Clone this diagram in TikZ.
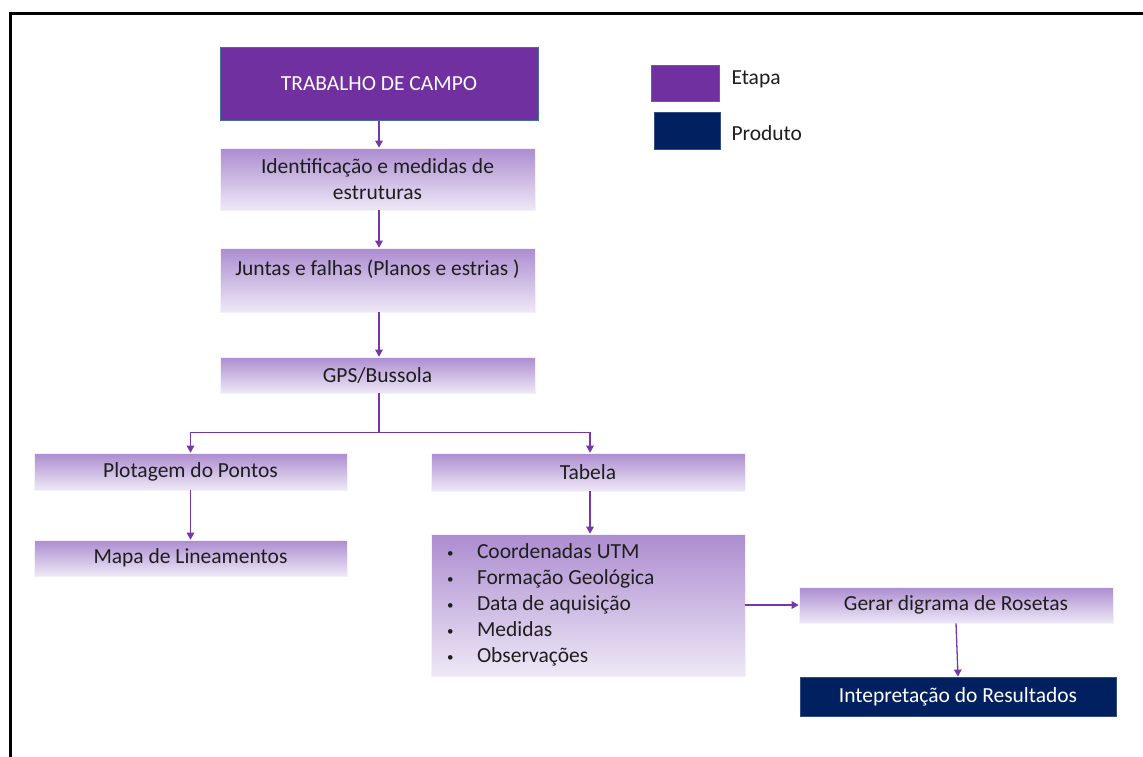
\documentclass[tikz,border=0pt]{standalone}
\usepackage{fontspec}
\setmainfont{Carlito}
\usetikzlibrary{arrows.meta}
\definecolor{etapa}{RGB}{112,48,160}
\definecolor{produto}{RGB}{0,32,96}
\definecolor{etapaedge}{RGB}{65,113,156}
\definecolor{gradtop}{RGB}{172,140,208}
\definecolor{gradbot}{RGB}{238,232,246}
\definecolor{ink}{RGB}{30,30,30}
\definecolor{flow}{RGB}{118,56,168}
% small list bullet followed by the item text
\newcommand{\listitem}[1]{\makebox[30pt][l]{\raisebox{1.5pt}{\fontsize{13}{13}\selectfont\textbullet}}#1}
\begin{document}
\begin{tikzpicture}[x=1pt,y=-1pt,
  txt/.style={font=\fontsize{21.5}{26}\selectfont},
  gbox/.style={txt,top color=gradtop,bottom color=gradbot,draw=gradbot!60!white,
    line width=0.6pt,inner sep=0pt,align=center,text=ink},
  etapabox/.style={txt,fill=etapa,draw=etapaedge,line width=1pt,inner sep=0pt,
    align=center,text=white},
  produtobox/.style={txt,fill=produto,draw=produto!80!white,line width=0.8pt,
    inner sep=0pt,align=center,text=white},
  arr/.style={draw=flow,line width=1.3pt,-{Triangle[length=7pt,width=7.5pt]}}]
\useasboundingbox (0,0) rectangle (1143,756);
\fill[white] (0,0) rectangle (1143,756);
% page frame
\draw[line width=3.5pt,black] (10.5,760) -- (10.5,13.5) -- (1150,13.5);

% legend
\node[etapabox,minimum width=68,minimum height=36] (legE) at (685,83) {};
\node[txt,anchor=west,text=ink] (legEt) at (728,79) {Etapa};
\node[produtobox,minimum width=66,minimum height=37] (legP) at (687,130.5) {};
\node[txt,anchor=west,text=ink] (legPt) at (728,133) {Produto};

% main column
\node[etapabox,minimum width=318,minimum height=73] (trab) at (379,83.5) {TRABALHO DE CAMPO};
\node[gbox,minimum width=315,minimum height=62] (ident) at (377.5,179)
  {Identificação e medidas de\\estruturas};
\node[gbox,minimum width=315,text height=27pt,text depth=37pt] (junt) at (377.5,280)
  {Juntas e falhas (Planos e estrias )};
\node[gbox,minimum width=315,minimum height=36] (gps) at (377.5,375) {GPS/Bussola};

% left branch
\node[gbox,minimum width=313,minimum height=37] (plot) at (190.5,471.5) {Plotagem do Pontos};
\node[gbox,minimum width=313,minimum height=36] (mapa) at (190.5,558) {Mapa de Lineamentos};

% right branch
\node[gbox,minimum width=314,minimum height=142,text width=282pt,inner xsep=0pt,
  align=flush left] (list) at (588,605)
  {\listitem{Coordenadas UTM}\\
   \listitem{Formação Geológica}\\
   \listitem{Data de aquisição}\\
   \listitem{Medidas}\\
   \listitem{Observações}};
\node[gbox,minimum width=314,minimum height=38] (tab) at (588,472) {Tabela};
\node[gbox,minimum width=314,minimum height=36] (gerar) at (956,605) {Gerar digrama de Rosetas};
\node[produtobox,minimum width=316,minimum height=39] (interp) at (958,696.5)
  {Intepretação do Resultados};

% connectors
\draw[arr] (trab.south) -- (trab.south |- ident.north);
\draw[arr] (ident.south -| trab.south) -- (trab.south |- junt.north);
\draw[arr] (junt.south -| trab.south) -- (trab.south |- gps.north);
\coordinate (split) at ([yshift=-39pt]gps.south -| trab.south);
\draw[draw=flow,line width=1.3pt] (gps.south -| trab.south) -- (split);
\draw[arr] (split) -| (plot.north);
\draw[arr] (split) -| ([xshift=2pt]tab.north);
\draw[arr] (plot.south) -- (mapa.north);
\draw[arr] ([xshift=2pt]tab.south) -- ([xshift=2pt]tab.south |- list.north);
\draw[arr] (list.east) -- (gerar.west);
\draw[arr] (gerar.south) -- (interp.north);
\end{tikzpicture}
\end{document}
